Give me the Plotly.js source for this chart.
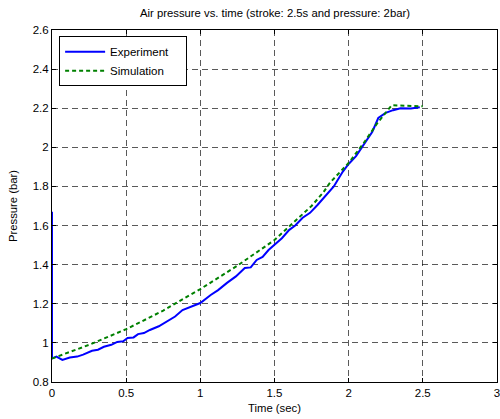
<!DOCTYPE html>
<html>
<head>
<meta charset="utf-8">
<script src="https://cdn.plot.ly/plotly-3.0.1.min.js"></script>
<style>html,body{margin:0;padding:0;background:#fff;}#chart{width:500px;height:419px;}</style>
</head>
<body>
<div id="chart"></div>
<script>
const expTime = [0, 0, 0.03, 0.07, 0.12, 0.17, 0.21, 0.27, 0.31, 0.35, 0.40, 0.44, 0.48, 0.51, 0.55, 0.58, 0.62, 0.66, 0.72, 0.77, 0.83, 0.88, 0.93, 1.0, 1.07, 1.12, 1.18, 1.24, 1.30, 1.34, 1.38, 1.42, 1.46, 1.50, 1.55, 1.60, 1.64, 1.69, 1.74, 1.79, 1.85, 1.90, 1.96, 2.0, 2.05, 2.10, 2.16, 2.20, 2.25, 2.30, 2.35, 2.42, 2.48];
const expPressure = [1.67, 0.92, 0.93, 0.913, 0.925, 0.93, 0.94, 0.96, 0.965, 0.98, 0.99, 1.005, 1.008, 1.025, 1.028, 1.045, 1.05, 1.066, 1.085, 1.107, 1.135, 1.168, 1.184, 1.204, 1.245, 1.27, 1.307, 1.34, 1.383, 1.386, 1.424, 1.44, 1.475, 1.50, 1.535, 1.578, 1.60, 1.64, 1.665, 1.705, 1.76, 1.80, 1.875, 1.915, 1.955, 2.01, 2.08, 2.15, 2.176, 2.19, 2.20, 2.198, 2.205];
const simTime = [0, 0.25, 0.5, 0.75, 0.93, 1.0, 1.25, 1.5, 1.75, 1.83, 1.875, 2.0, 2.1, 2.19, 2.29, 2.5];
const simPressure = [0.92, 0.99, 1.07, 1.165, 1.245, 1.275, 1.395, 1.526, 1.70, 1.77, 1.82, 1.92, 2.02, 2.12, 2.215, 2.21];
const xTicks = [0, 0.5, 1, 1.5, 2, 2.5, 3];
const yTicks = [0.8, 1, 1.2, 1.4, 1.6, 1.8, 2, 2.2, 2.4, 2.6];
const seriesNames = ['Experiment', 'Simulation'];

const pad = '\u00a0\u00a0\u00a0\u00a0';
const traces = [
  {x: expTime, y: expPressure, mode: 'lines', name: seriesNames[0] + pad,
   line: {color: 'rgb(0,0,255)', width: 2}},
  {x: simTime, y: simPressure, mode: 'lines', name: seriesNames[1] + pad,
   line: {color: 'rgb(0,128,0)', width: 2, dash: '4px,3px'}}
];

const axisCommon = {
  showline: true, linecolor: '#000', linewidth: 1, mirror: 'ticks',
  ticks: 'inside', ticklen: 4, tickcolor: '#000',
  showgrid: true, gridcolor: 'rgba(0,0,0,0.65)', griddash: '6px,4px', gridwidth: 1,
  zeroline: false, ticklabeloverflow: 'allow',
  tickfont: {family: 'Liberation Sans, Arial', size: 11.5, color: '#000'}
};

const layout = {
  width: 500, height: 419,
  margin: {l: 52, r: 3, t: 30, b: 37},
  paper_bgcolor: '#fff', plot_bgcolor: '#fff',
  font: {family: 'Liberation Sans, Arial', size: 11, color: '#000'},
  title: {text: 'Air pressure vs. time (stroke: 2.5s and pressure: 2bar)',
          font: {family: 'Liberation Sans, Arial', size: 11.3, color: '#000'},
          x: 0.55, xanchor: 'center', y: 0.97, yanchor: 'middle'},
  xaxis: Object.assign({}, axisCommon, {range: [0, 3.0005], tickvals: xTicks, ticktext: xTicks.map(String),
    title: {text: 'Time (sec)', font: {size: 11.3}, standoff: 6}}),
  yaxis: Object.assign({}, axisCommon, {range: [0.8, 2.6], tickvals: yTicks, ticktext: yTicks.map(String),
    title: {text: 'Pressure (bar)', font: {size: 11.3}, standoff: 12}}),
  showlegend: true,
  legend: {x: 0.016, y: 0.982, xanchor: 'left', yanchor: 'top', bgcolor: '#fff',
           bordercolor: '#000', borderwidth: 1, font: {size: 11.5},
           tracegroupgap: 0, itemwidth: 40}
};

Plotly.newPlot('chart', traces, layout, {displayModeBar: false, staticPlot: true});
</script>
</body>
</html>
